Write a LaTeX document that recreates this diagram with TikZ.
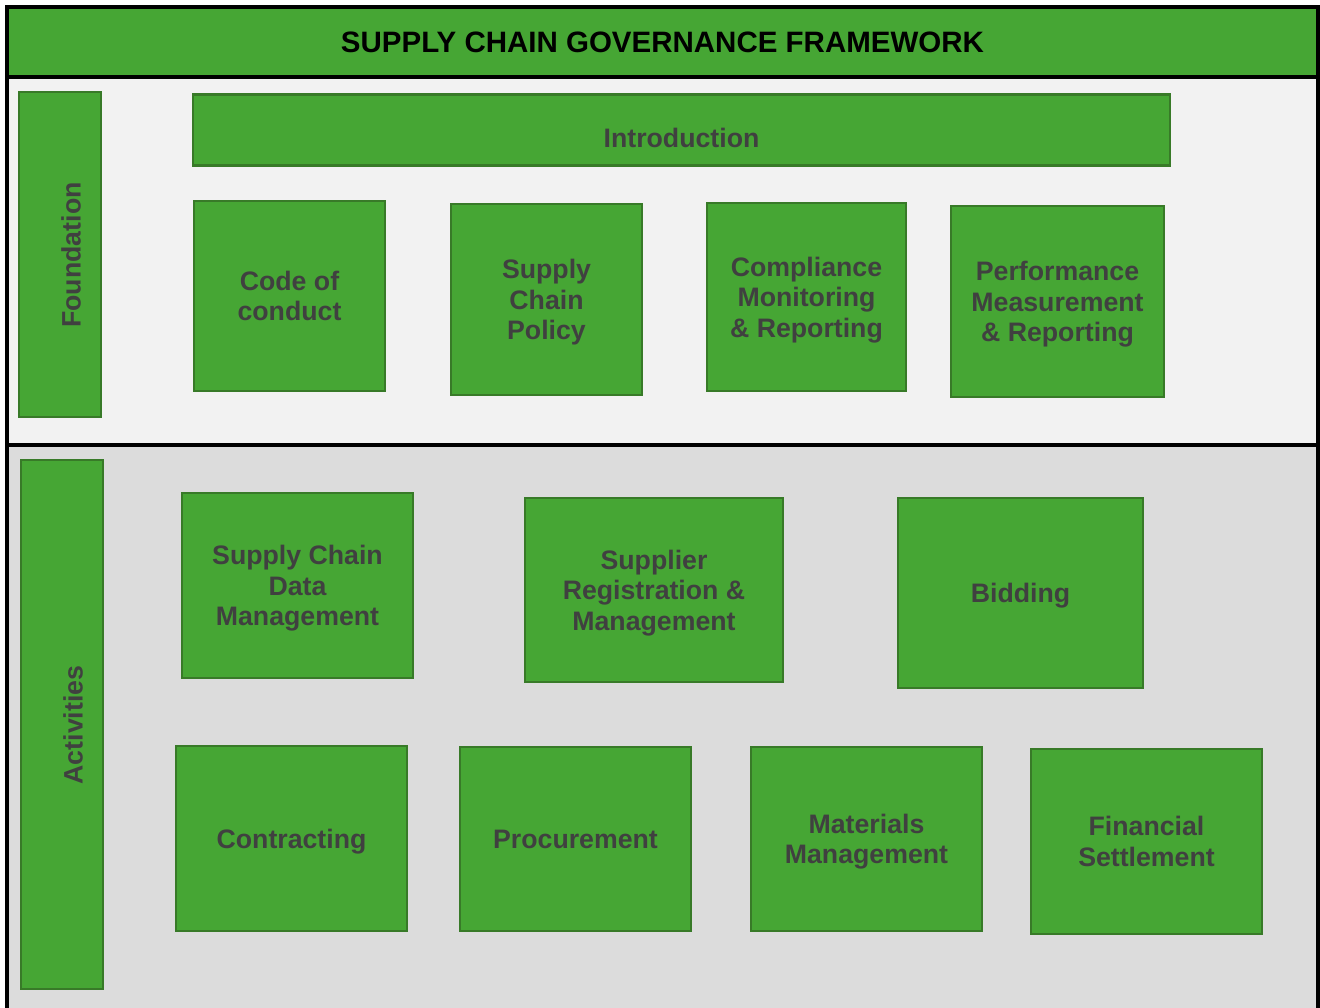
\documentclass[tikz,border=0pt]{standalone}
\usepackage{fontspec}
\setmainfont{Liberation Sans}
\definecolor{gfill}{RGB}{70,166,52}
\definecolor{gborder}{RGB}{56,122,40}
\definecolor{gtext}{RGB}{64,64,64}
\definecolor{topbg}{RGB}{242,242,242}
\definecolor{lowbg}{RGB}{220,220,220}
\tikzset{
  gbox/.style={draw=gborder, line width=2.5pt, fill=gfill, inner sep=0pt,
    text=gtext, align=center, text depth=0pt,
    font=\bfseries\fontsize{26.7}{30.5}\selectfont},
  glabel/.style={inner sep=0pt, text=gtext, align=center,
    font=\bfseries\fontsize{26.7}{30.5}\selectfont},
  frameline/.style={draw=black, line width=4pt}
}
\begin{document}
\begin{tikzpicture}[x=1pt, y=-1pt]
\useasboundingbox (0,0) rectangle (1320,1007);

% panels
\fill[gfill] (7,7) rectangle (1318,77);
\fill[topbg] (7,77) rectangle (1318,445);
\fill[lowbg] (7,445) rectangle (1318,1012);
\draw[frameline] (7,1012) -- (7,7) -- (1318,7) -- (1318,1012);
\draw[frameline] (7,77) -- (1318,77);
\draw[frameline, line width=3.5pt] (7,445) -- (1318,445);

\node[inner sep=0pt, text=black, font=\bfseries\fontsize{29.5}{34}\selectfont]
  (title) at (662.5,42.3) {SUPPLY CHAIN GOVERNANCE FRAMEWORK};

% foundation layer
\node[gbox, minimum width=82pt, minimum height=325pt] (found) at (60,254.5) {};
\node[glabel, rotate=90] (foundlbl) at (71,255) {Foundation};
\node[gbox, minimum width=977pt, minimum height=71pt] (intro) at (681.5,130) {};
\node[glabel] (introlbl) at (681.5,137.5) {Introduction};
\node[gbox, minimum width=191pt, minimum height=190pt] (code) at (289.5,296) {Code of\\conduct};
\node[gbox, minimum width=191pt, minimum height=191pt] (policy) at (546.5,299.5) {Supply\\Chain\\Policy};
\node[gbox, minimum width=199pt, minimum height=188pt] (comp) at (806.5,297) {Compliance\\Monitoring\\\& Reporting};
\node[gbox, minimum width=213pt, minimum height=191pt] (perf) at (1057.5,301.5) {Performance\\Measurement\\\& Reporting};

% activities layer
\node[gbox, minimum width=82pt, minimum height=529pt] (act) at (62,724.5) {};
\node[glabel, rotate=90] (actlbl) at (73,725) {Activities};
\node[gbox, minimum width=231pt, minimum height=185pt] (scdm) at (297.5,585.5) {Supply Chain\\Data\\Management};
\node[gbox, minimum width=258pt, minimum height=184pt] (supreg) at (654,590) {Supplier\\Registration \&\\Management};
\node[gbox, minimum width=245pt, minimum height=190pt] (bid) at (1020.5,593) {Bidding};
\node[gbox, minimum width=231pt, minimum height=185pt] (contr) at (291.5,838.5) {Contracting};
\node[gbox, minimum width=231pt, minimum height=184pt] (proc) at (575.5,839) {Procurement};
\node[gbox, minimum width=231pt, minimum height=184pt] (mat) at (866.5,839) {Materials\\Management};
\node[gbox, minimum width=231pt, minimum height=185pt] (fin) at (1146.5,841.5) {Financial\\Settlement};
\end{tikzpicture}
\end{document}
